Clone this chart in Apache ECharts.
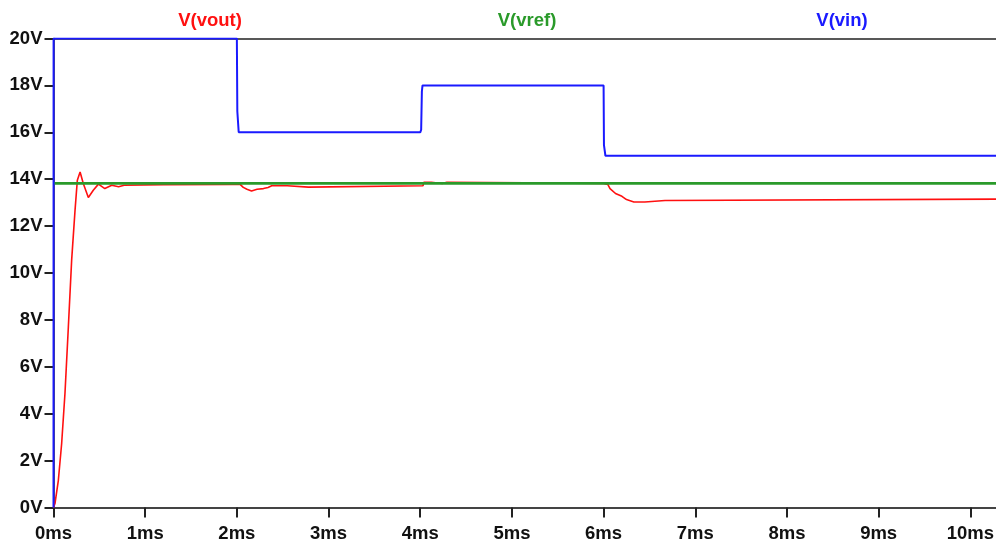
<!DOCTYPE html>
<html>
<head>
<meta charset="utf-8">
<script src="https://cdn.jsdelivr.net/npm/echarts@6/dist/echarts.min.js"></script>
<style>
  html, body { margin: 0; padding: 0; background: #fff; }
  #chart { width: 996px; height: 548px; }
</style>
</head>
<body>
<div id="chart"></div>
<script>
// transient sim traces (time in ms, volts)
const voutT = [0, 0.016, 0.053, 0.089, 0.125, 0.162, 0.198, 0.235, 0.26, 0.29, 0.325, 0.38, 0.434, 0.49, 0.56, 0.635, 0.71, 0.77, 1.2, 1.95, 2.035, 2.07, 2.11, 2.16, 2.22, 2.29, 2.34, 2.38, 2.55, 2.56, 2.78, 2.8, 4.03, 4.04, 4.12, 4.14, 4.24, 4.25, 4.29, 4.31, 6.0, 6.047, 6.07, 6.13, 6.2, 6.25, 6.33, 6.45, 6.47, 6.67, 6.69, 10.28]
const voutV = [0, 0.17, 1.16, 2.73, 4.86, 7.7, 10.55, 12.68, 13.96, 14.31, 13.82, 13.22, 13.53, 13.79, 13.6, 13.74, 13.68, 13.74, 13.77, 13.78, 13.78, 13.65, 13.57, 13.5, 13.57, 13.6, 13.65, 13.72, 13.72, 13.66, 13.66, 13.72, 13.72, 13.87, 13.87, 13.82, 13.82, 13.87, 13.87, 13.82, 13.82, 13.77, 13.6, 13.39, 13.27, 13.13, 13.03, 13.03, 13.09, 13.09, 13.15, 13.15]

const vrefT = [0, 10.28]
const vrefV = [13.82, 13.82]

const vinT = [0, 0.001, 2.0, 2.005, 2.012, 2.02, 4.0, 4.01, 4.018, 4.025, 6.0, 6.004, 6.012, 6.02, 10.28]
const vinV = [0, 20, 20, 16.9, 16.9, 16, 16, 16.1, 17.75, 18, 18, 15.45, 15.45, 15, 15]

const xTicks = [0, 1, 2, 3, 4, 5, 6, 7, 8, 9, 10]
const traceNames = ['V(vout)', 'V(vref)', 'V(vin)']
const traceColors = ['#ff1010', '#2a9a2a', '#1a1aff']

const zip = (t, v) => t.map((x, i) => [x, v[i]])
const font = "'Liberation Sans', Arial, sans-serif"
const titleX = [210, 527, 842]

const chart = echarts.init(document.getElementById('chart'))

chart.setOption({
  animation: false,
  grid: { left: 53.5, right: 0, top: 38.5, bottom: 40.5, outerBoundsMode: 'none', containLabel: false },
  xAxis: [
    {
      type: 'value', min: 0, max: 10.28,
      axisLine: { lineStyle: { color: '#444', width: 2 } },
      axisTick: { length: 10, customValues: xTicks, lineStyle: { color: '#222', width: 2 } },
      axisLabel: {
        customValues: xTicks, margin: 17,
        formatter: v => v + 'ms',
        fontFamily: font, fontWeight: 'bold', fontSize: 18.5, color: '#111'
      },
      splitLine: { show: false }
    },
    {
      type: 'value', position: 'top', min: 0, max: 10.28,
      axisLine: { show: true, lineStyle: { color: '#222', width: 1.5 } },
      axisTick: { show: false }, axisLabel: { show: false }, splitLine: { show: false }
    }
  ],
  yAxis: {
    type: 'value', min: 0, max: 20, interval: 2,
    axisLine: { show: true, lineStyle: { color: '#222', width: 1.5 } },
    axisTick: { show: true, length: 9, lineStyle: { color: '#222', width: 2 } },
    axisLabel: {
      margin: 11, formatter: '{value}V',
      fontFamily: font, fontWeight: 'bold', fontSize: 18.5, color: '#111'
    },
    splitLine: { show: false }
  },
  graphic: traceNames.map((name, i) => ({
    type: 'text',
    x: titleX[i],
    y: 21,
    style: {
      text: name, align: 'center', verticalAlign: 'middle',
      fontFamily: font, fontWeight: 'bold', fontSize: 18.5, fill: traceColors[i]
    }
  })),
  series: [
    { name: traceNames[0], type: 'line', data: zip(voutT, voutV), symbol: 'none', lineStyle: { color: traceColors[0], width: 1.6 }, z: 2 },
    { name: traceNames[1], type: 'line', data: zip(vrefT, vrefV), symbol: 'none', lineStyle: { color: traceColors[1], width: 2.6 }, z: 3 },
    { name: traceNames[2], type: 'line', data: zip(vinT, vinV), symbol: 'none', lineStyle: { color: traceColors[2], width: 2 }, z: 4 }
  ]
})
</script>
</body>
</html>
